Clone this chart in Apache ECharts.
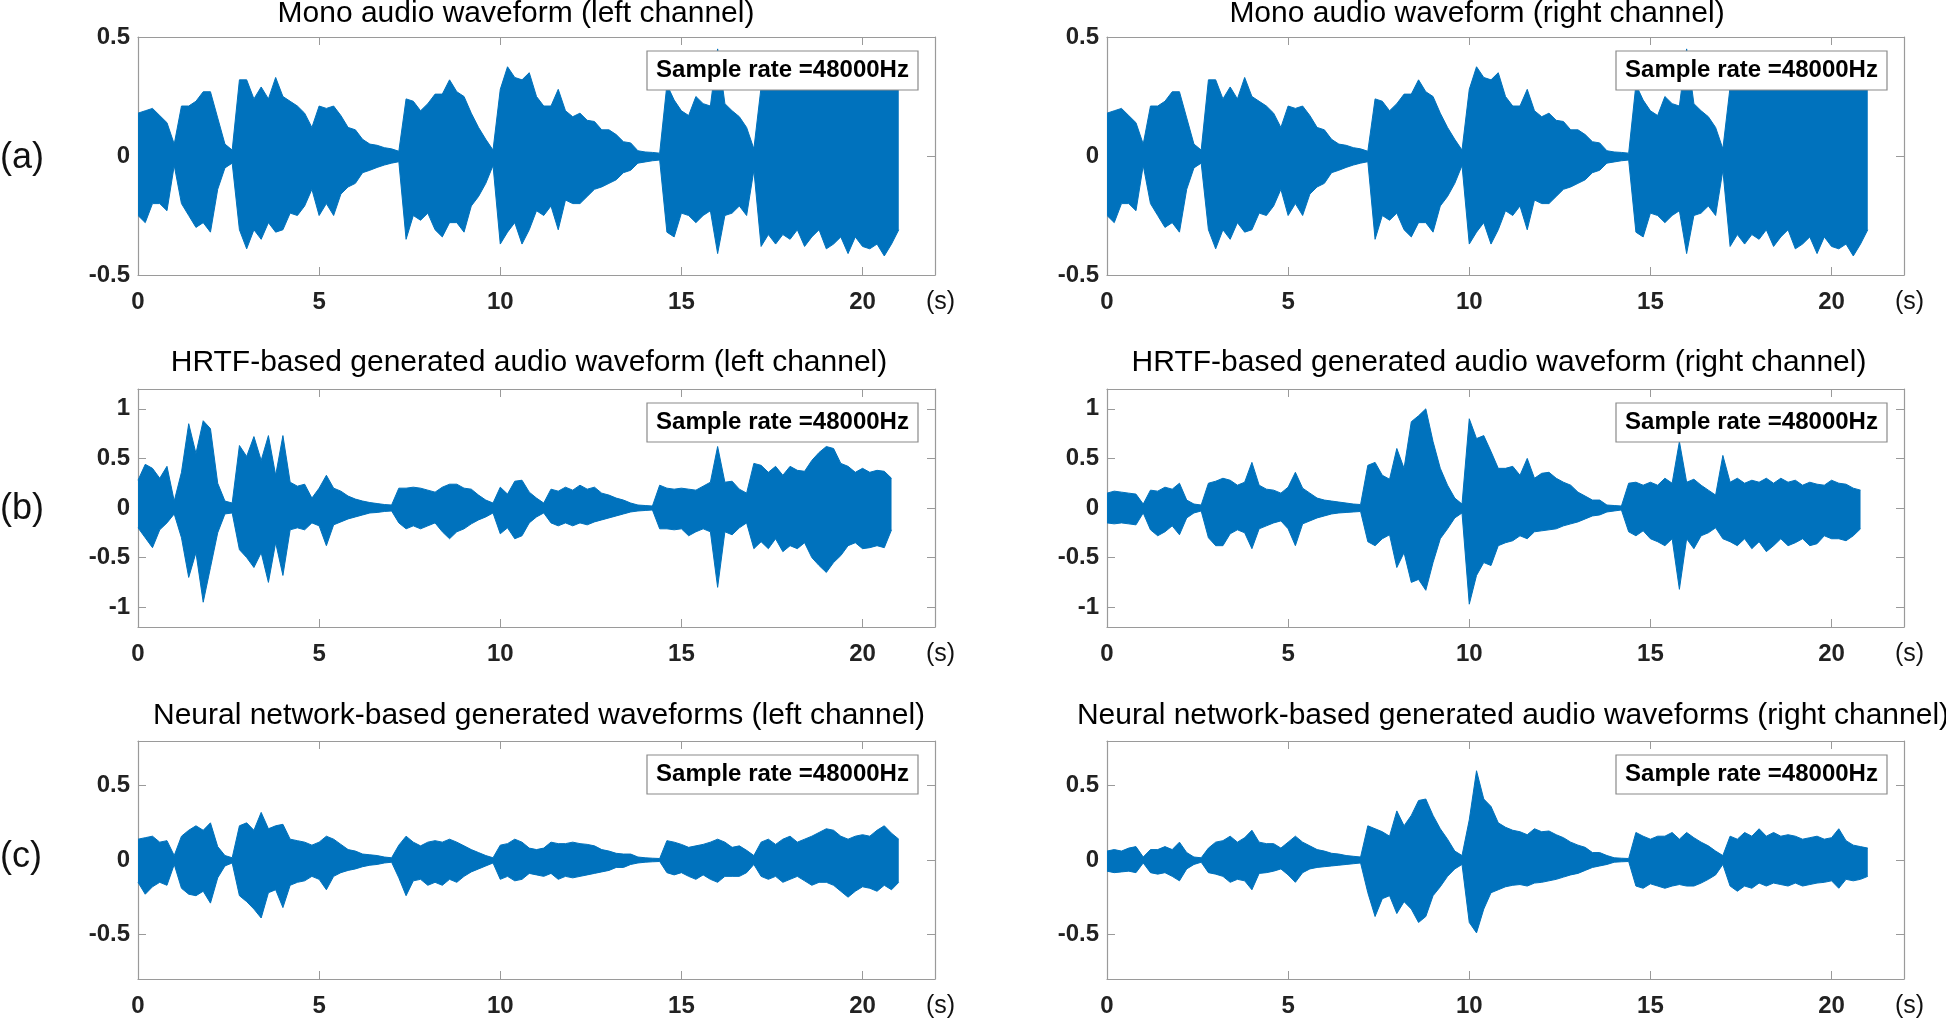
<!DOCTYPE html>
<html>
<head>
<meta charset="utf-8">
<title>Audio waveforms</title>
<script src="https://cdn.jsdelivr.net/npm/echarts@6/dist/echarts.min.js"></script>
<style>
  * { margin: 0; padding: 0; }
  html, body { background: #fff; }
  #main { width: 1946px; height: 1018px; }
</style>
</head>
<body>
<div id="main"></div>
<script>
// envelope samples are read every 0.2 s
var STEP = 0.2;

var xTicks = [0, 5, 10, 15, 20];
var yTicksA = [-0.5, 0, 0.5];
var yTicksB = [-1, -0.5, 0, 0.5, 1];
var yTicksC = [-0.5, 0, 0.5];

var titles = [
  'Mono audio waveform (left channel)',
  'Mono audio waveform (right channel)',
  'HRTF-based generated audio waveform (left channel)',
  'HRTF-based generated audio waveform (right channel)',
  'Neural network-based generated waveforms (left channel)',
  'Neural network-based generated audio waveforms (right channel)'
];
var rowLabels = ['(a)', '(b)', '(c)'];
var legendText = 'Sample rate =48000Hz';

// mono signal, same on both channels (0 .. 21 s)
var monoUpper = [
  0.18, 0.19, 0.20, 0.17, 0.14, 0.05, 0.21, 0.21, 0.23, 0.27,
  0.27, 0.16, 0.05, 0.025, 0.32, 0.32, 0.24, 0.29, 0.24, 0.33,
  0.25, 0.23, 0.21, 0.18, 0.12, 0.21, 0.20, 0.21, 0.17, 0.12,
  0.11, 0.07, 0.05, 0.045, 0.035, 0.03, 0.02, 0.24, 0.23, 0.19,
  0.22, 0.26, 0.26, 0.32, 0.27, 0.25, 0.18, 0.12, 0.07, 0.025,
  0.28, 0.375, 0.33, 0.32, 0.35, 0.25, 0.21, 0.21, 0.28, 0.19,
  0.165, 0.18, 0.15, 0.145, 0.11, 0.11, 0.09, 0.06, 0.055, 0.022,
  0.017, 0.015, 0.012, 0.30, 0.235, 0.19, 0.17, 0.25, 0.22, 0.21,
  0.45, 0.22, 0.19, 0.165, 0.12, 0.03, 0.29, 0.31, 0.28, 0.30,
  0.32, 0.29, 0.30, 0.28, 0.31, 0.30, 0.29, 0.32, 0.28, 0.30,
  0.31, 0.29, 0.30, 0.28, 0.31, 0.29
];
var monoLower = [
  -0.25, -0.28, -0.20, -0.20, -0.23, -0.04, -0.20, -0.25, -0.30, -0.28,
  -0.32, -0.14, -0.05, -0.03, -0.31, -0.39, -0.31, -0.35, -0.28, -0.32,
  -0.31, -0.24, -0.25, -0.21, -0.14, -0.25, -0.20, -0.25, -0.16, -0.13,
  -0.115, -0.07, -0.06, -0.048, -0.038, -0.03, -0.024, -0.35, -0.25, -0.27,
  -0.24, -0.31, -0.34, -0.28, -0.28, -0.32, -0.21, -0.17, -0.115, -0.04,
  -0.37, -0.32, -0.28, -0.37, -0.31, -0.23, -0.25, -0.21, -0.31, -0.185,
  -0.20, -0.20, -0.17, -0.14, -0.13, -0.115, -0.10, -0.07, -0.06, -0.03,
  -0.025, -0.02, -0.017, -0.32, -0.34, -0.24, -0.25, -0.28, -0.25, -0.23,
  -0.41, -0.25, -0.24, -0.21, -0.25, -0.06, -0.38, -0.33, -0.37, -0.33,
  -0.35, -0.31, -0.38, -0.34, -0.31, -0.39, -0.37, -0.34, -0.41, -0.34,
  -0.38, -0.39, -0.37, -0.42, -0.37, -0.31
];

// HRTF output (0 .. 20.8 s)
var hrtfLeftUpper = [
  0.28, 0.44, 0.40, 0.30, 0.42, 0.07, 0.36, 0.85, 0.55, 0.88,
  0.80, 0.25, 0.07, 0.05, 0.63, 0.52, 0.72, 0.48, 0.73, 0.33,
  0.73, 0.26, 0.22, 0.24, 0.10, 0.20, 0.33, 0.20, 0.17, 0.12,
  0.09, 0.07, 0.055, 0.045, 0.035, 0.03, 0.20, 0.20, 0.21, 0.20,
  0.18, 0.16, 0.21, 0.24, 0.24, 0.20, 0.19, 0.13, 0.08, 0.05,
  0.21, 0.14, 0.27, 0.28, 0.16, 0.10, 0.05, 0.19, 0.17, 0.21,
  0.18, 0.23, 0.19, 0.21, 0.15, 0.13, 0.10, 0.08, 0.05, 0.03,
  0.025, 0.02, 0.23, 0.20, 0.19, 0.20, 0.19, 0.18, 0.22, 0.26,
  0.62, 0.26, 0.27, 0.19, 0.15, 0.45, 0.43, 0.36, 0.42, 0.33,
  0.42, 0.38, 0.37, 0.48, 0.56, 0.62, 0.60, 0.45, 0.42, 0.36,
  0.40, 0.36, 0.38, 0.37, 0.30
];
var hrtfLeftLower = [
  -0.20, -0.30, -0.40, -0.22, -0.15, -0.06, -0.30, -0.70, -0.45, -0.95,
  -0.60, -0.25, -0.06, -0.05, -0.42, -0.50, -0.60, -0.45, -0.75, -0.35,
  -0.68, -0.22, -0.20, -0.22, -0.15, -0.18, -0.38, -0.17, -0.14, -0.11,
  -0.09, -0.07, -0.05, -0.045, -0.035, -0.03, -0.15, -0.21, -0.18, -0.21,
  -0.18, -0.15, -0.24, -0.31, -0.24, -0.21, -0.16, -0.12, -0.09, -0.05,
  -0.26, -0.20, -0.31, -0.28, -0.15, -0.09, -0.05, -0.15, -0.18, -0.15,
  -0.18, -0.15, -0.17, -0.14, -0.12, -0.10, -0.08, -0.06, -0.04, -0.03,
  -0.025, -0.02, -0.21, -0.21, -0.22, -0.21, -0.28, -0.24, -0.21, -0.24,
  -0.80, -0.24, -0.27, -0.20, -0.15, -0.41, -0.34, -0.41, -0.31, -0.44,
  -0.38, -0.41, -0.35, -0.50, -0.58, -0.65, -0.55, -0.48, -0.38, -0.35,
  -0.41, -0.40, -0.38, -0.40, -0.22
];
var hrtfRightUpper = [
  0.15, 0.17, 0.16, 0.15, 0.14, 0.04, 0.18, 0.17, 0.21, 0.19,
  0.25, 0.08, 0.04, 0.03, 0.25, 0.27, 0.30, 0.28, 0.23, 0.26,
  0.46, 0.23, 0.19, 0.18, 0.15, 0.21, 0.36, 0.20, 0.15, 0.10,
  0.08, 0.07, 0.06, 0.05, 0.04, 0.035, 0.43, 0.46, 0.33, 0.29,
  0.60, 0.40, 0.87, 0.93, 1.00, 0.67, 0.40, 0.23, 0.10, 0.04,
  0.90, 0.70, 0.73, 0.57, 0.40, 0.40, 0.42, 0.33, 0.50, 0.30,
  0.35, 0.36, 0.30, 0.26, 0.23, 0.16, 0.12, 0.08, 0.08, 0.03,
  0.025, 0.02, 0.25, 0.26, 0.23, 0.26, 0.23, 0.30, 0.25, 0.67,
  0.26, 0.29, 0.23, 0.18, 0.13, 0.53, 0.26, 0.30, 0.25, 0.28,
  0.26, 0.30, 0.25, 0.30, 0.26, 0.28, 0.23, 0.26, 0.24, 0.23,
  0.28, 0.25, 0.24, 0.20, 0.18
];
var hrtfRightLower = [
  -0.15, -0.16, -0.15, -0.16, -0.17, -0.05, -0.22, -0.28, -0.24, -0.18,
  -0.27, -0.10, -0.05, -0.03, -0.30, -0.38, -0.38, -0.26, -0.22, -0.25,
  -0.41, -0.21, -0.18, -0.15, -0.13, -0.21, -0.38, -0.16, -0.13, -0.10,
  -0.08, -0.06, -0.05, -0.045, -0.04, -0.035, -0.34, -0.38, -0.31, -0.27,
  -0.60, -0.45, -0.75, -0.72, -0.83, -0.55, -0.31, -0.21, -0.10, -0.05,
  -0.97, -0.68, -0.55, -0.58, -0.38, -0.35, -0.33, -0.28, -0.31, -0.24,
  -0.23, -0.22, -0.21, -0.18, -0.16, -0.14, -0.11, -0.08, -0.07, -0.04,
  -0.03, -0.02, -0.24, -0.28, -0.23, -0.31, -0.34, -0.38, -0.31, -0.82,
  -0.31, -0.41, -0.28, -0.25, -0.20, -0.31, -0.34, -0.38, -0.31, -0.41,
  -0.34, -0.44, -0.38, -0.31, -0.38, -0.35, -0.31, -0.38, -0.36, -0.28,
  -0.31, -0.31, -0.33, -0.28, -0.21
];

// neural network output (0 .. 21 s)
var nnLeftUpper = [
  0.14, 0.15, 0.16, 0.12, 0.13, 0.03, 0.16, 0.20, 0.23, 0.20,
  0.25, 0.09, 0.03, 0.015, 0.23, 0.25, 0.20, 0.32, 0.21, 0.23,
  0.24, 0.14, 0.13, 0.12, 0.10, 0.12, 0.16, 0.14, 0.105, 0.07,
  0.06, 0.04, 0.035, 0.03, 0.02, 0.015, 0.10, 0.16, 0.12, 0.095,
  0.12, 0.13, 0.12, 0.14, 0.12, 0.095, 0.07, 0.05, 0.03, 0.015,
  0.10, 0.11, 0.14, 0.12, 0.08, 0.07, 0.08, 0.12, 0.11, 0.11,
  0.12, 0.11, 0.105, 0.095, 0.07, 0.06, 0.045, 0.04, 0.04, 0.02,
  0.015, 0.012, 0.01, 0.13, 0.12, 0.105, 0.085, 0.095, 0.105, 0.12,
  0.14, 0.12, 0.085, 0.095, 0.065, 0.03, 0.12, 0.14, 0.105, 0.14,
  0.16, 0.12, 0.14, 0.16, 0.185, 0.21, 0.20, 0.16, 0.14, 0.16,
  0.17, 0.16, 0.20, 0.23, 0.18, 0.14
];
var nnLeftLower = [
  -0.15, -0.23, -0.18, -0.15, -0.17, -0.03, -0.19, -0.23, -0.24, -0.21,
  -0.29, -0.12, -0.04, -0.02, -0.24, -0.28, -0.33, -0.39, -0.22, -0.20,
  -0.32, -0.17, -0.15, -0.14, -0.11, -0.13, -0.20, -0.11, -0.085, -0.07,
  -0.06, -0.045, -0.035, -0.03, -0.02, -0.015, -0.12, -0.24, -0.14, -0.13,
  -0.17, -0.15, -0.17, -0.13, -0.15, -0.11, -0.08, -0.06, -0.04, -0.02,
  -0.13, -0.11, -0.14, -0.13, -0.09, -0.10, -0.11, -0.09, -0.13, -0.11,
  -0.12, -0.11, -0.10, -0.09, -0.08, -0.07, -0.05, -0.05, -0.03, -0.02,
  -0.015, -0.012, -0.01, -0.085, -0.10, -0.085, -0.11, -0.13, -0.10, -0.13,
  -0.15, -0.11, -0.11, -0.11, -0.085, -0.03, -0.11, -0.13, -0.11, -0.15,
  -0.13, -0.11, -0.14, -0.17, -0.15, -0.15, -0.17, -0.21, -0.25, -0.21,
  -0.18, -0.19, -0.21, -0.17, -0.20, -0.15
];
var nnRightUpper = [
  0.06, 0.07, 0.06, 0.08, 0.09, 0.02, 0.07, 0.07, 0.09, 0.07,
  0.12, 0.05, 0.02, 0.015, 0.08, 0.12, 0.13, 0.16, 0.12, 0.15,
  0.20, 0.12, 0.11, 0.11, 0.08, 0.12, 0.16, 0.12, 0.095, 0.07,
  0.06, 0.045, 0.04, 0.03, 0.025, 0.02, 0.23, 0.21, 0.19, 0.16,
  0.33, 0.23, 0.30, 0.40, 0.41, 0.30, 0.21, 0.14, 0.06, 0.03,
  0.27, 0.60, 0.41, 0.36, 0.25, 0.22, 0.20, 0.19, 0.17, 0.21,
  0.19, 0.195, 0.17, 0.15, 0.12, 0.10, 0.085, 0.05, 0.05, 0.03,
  0.015, 0.012, 0.01, 0.185, 0.16, 0.14, 0.16, 0.16, 0.185, 0.14,
  0.185, 0.15, 0.12, 0.095, 0.06, 0.03, 0.16, 0.14, 0.185, 0.16,
  0.21, 0.16, 0.185, 0.16, 0.17, 0.16, 0.14, 0.15, 0.16, 0.14,
  0.15, 0.21, 0.13, 0.10, 0.09, 0.08
];
var nnRightLower = [
  -0.075, -0.085, -0.08, -0.075, -0.085, -0.02, -0.085, -0.095, -0.085, -0.11,
  -0.14, -0.06, -0.03, -0.015, -0.085, -0.095, -0.11, -0.15, -0.13, -0.14,
  -0.20, -0.09, -0.085, -0.075, -0.06, -0.10, -0.15, -0.085, -0.06, -0.05,
  -0.045, -0.04, -0.035, -0.03, -0.025, -0.02, -0.22, -0.38, -0.26, -0.24,
  -0.36, -0.28, -0.33, -0.42, -0.38, -0.24, -0.18, -0.11, -0.06, -0.03,
  -0.42, -0.49, -0.33, -0.22, -0.20, -0.18, -0.17, -0.165, -0.175, -0.155,
  -0.15, -0.14, -0.13, -0.115, -0.10, -0.09, -0.07, -0.05, -0.04, -0.03,
  -0.015, -0.012, -0.01, -0.175, -0.19, -0.16, -0.175, -0.19, -0.175, -0.165,
  -0.175, -0.175, -0.155, -0.13, -0.10, -0.03, -0.175, -0.21, -0.175, -0.19,
  -0.155, -0.175, -0.155, -0.165, -0.175, -0.155, -0.175, -0.165, -0.155, -0.15,
  -0.14, -0.19, -0.13, -0.14, -0.13, -0.11
];

var panels = [
  { upper: monoUpper, lower: monoLower, yRange: 0.5, yTicks: yTicksA },
  { upper: monoUpper, lower: monoLower, yRange: 0.5, yTicks: yTicksA },
  { upper: hrtfLeftUpper, lower: hrtfLeftLower, yRange: 1.2, yTicks: yTicksB },
  { upper: hrtfRightUpper, lower: hrtfRightLower, yRange: 1.2, yTicks: yTicksB },
  { upper: nnLeftUpper, lower: nnLeftLower, yRange: 0.8, yTicks: yTicksC },
  { upper: nnRightUpper, lower: nnRightLower, yRange: 0.8, yTicks: yTicksC }
];

// layout
var colLeft = [138, 1107];
var rowTop = [37, 389, 741];
var plotW = 797, plotH = 238;
var titleX = [[516, 1477], [529, 1499], [539, 1513]];
var titleY = [14, 363, 716];
var rowLabelY = [158, 509, 857];

var FONT = '"Liberation Sans", Arial, Helvetica, sans-serif';
var BLUE = '#0072BD';
var BOX = '#9a9a9a';

function toPoints(arr) {
  return arr.map(function (v, i) { return [+(i * STEP).toFixed(1), v]; });
}

var grid = [], xAxis = [], yAxis = [], series = [], graphic = [];

panels.forEach(function (p, i) {
  var r = Math.floor(i / 2), c = i % 2;
  var left = colLeft[c], top = rowTop[r];
  grid.push({ left: left, top: top, width: plotW, height: plotH, outerBoundsMode: 'none' });

  var tickStyle = { show: true, inside: true, length: 8, lineStyle: { color: BOX } };
  var lineStyle = { show: true, onZero: false, lineStyle: { color: BOX, width: 1.2 } };

  // bottom and top (mirror) x axes
  [0, 1].forEach(function (k) {
    xAxis.push({
      type: 'value', gridIndex: i, min: 0, max: 22, interval: 5,
      position: k ? 'top' : 'bottom',
      axisLine: lineStyle, axisTick: tickStyle,
      axisLabel: {
        show: !k, margin: 15, color: '#222', fontSize: 24, fontWeight: 'bold',
        fontFamily: FONT, showMaxLabel: false
      },
      splitLine: { show: false }
    });
  });
  // left and right (mirror) y axes
  [0, 1].forEach(function (k) {
    yAxis.push({
      type: 'value', gridIndex: i, min: -p.yRange, max: p.yRange,
      position: k ? 'right' : 'left',
      axisLine: lineStyle,
      axisTick: Object.assign({ customValues: p.yTicks }, tickStyle),
      axisLabel: {
        show: !k, margin: 8, color: '#222', fontSize: 24, fontWeight: 'bold',
        fontFamily: FONT, customValues: p.yTicks
      },
      splitLine: { show: false }
    });
  });

  [p.upper, p.lower].forEach(function (arr) {
    series.push({
      name: legendText, type: 'line',
      xAxisIndex: i * 2, yAxisIndex: i * 2,
      data: toPoints(arr),
      showSymbol: false, silent: true,
      lineStyle: { color: BLUE, width: 1 },
      areaStyle: { color: BLUE, opacity: 1 },
      z: 2
    });
  });

  graphic.push({
    type: 'text', x: titleX[r][c], y: titleY[r], z: 100,
    style: {
      text: titles[i], fill: '#000', font: '30px ' + FONT,
      textAlign: 'center', textVerticalAlign: 'middle'
    }
  });
  graphic.push({
    type: 'rect', z: 100,
    shape: { x: left + 509, y: top + 14, width: 271, height: 39 },
    style: { fill: '#fff', stroke: '#8a8a8a', lineWidth: 1.2 }
  });
  graphic.push({
    type: 'text', x: left + 509 + 135.5, y: top + 14 + 19.5, z: 101,
    style: {
      text: legendText, fill: '#000', font: 'bold 24px ' + FONT,
      textAlign: 'center', textVerticalAlign: 'middle'
    }
  });
  graphic.push({
    type: 'text', x: left + plotW - 9, y: top + plotH + 27, z: 100,
    style: {
      text: '(s)', fill: '#111', font: '25px ' + FONT,
      textAlign: 'left', textVerticalAlign: 'middle'
    }
  });
});

rowLabels.forEach(function (t, r) {
  graphic.push({
    type: 'text', x: 0, y: rowLabelY[r], z: 100,
    style: {
      text: t, fill: '#111', font: '36px ' + FONT,
      textAlign: 'left', textVerticalAlign: 'middle'
    }
  });
});

var chart = echarts.init(document.getElementById('main'));
chart.setOption({
  animation: false,
  backgroundColor: '#fff',
  grid: grid,
  xAxis: xAxis,
  yAxis: yAxis,
  series: series,
  graphic: graphic
});
</script>
</body>
</html>
